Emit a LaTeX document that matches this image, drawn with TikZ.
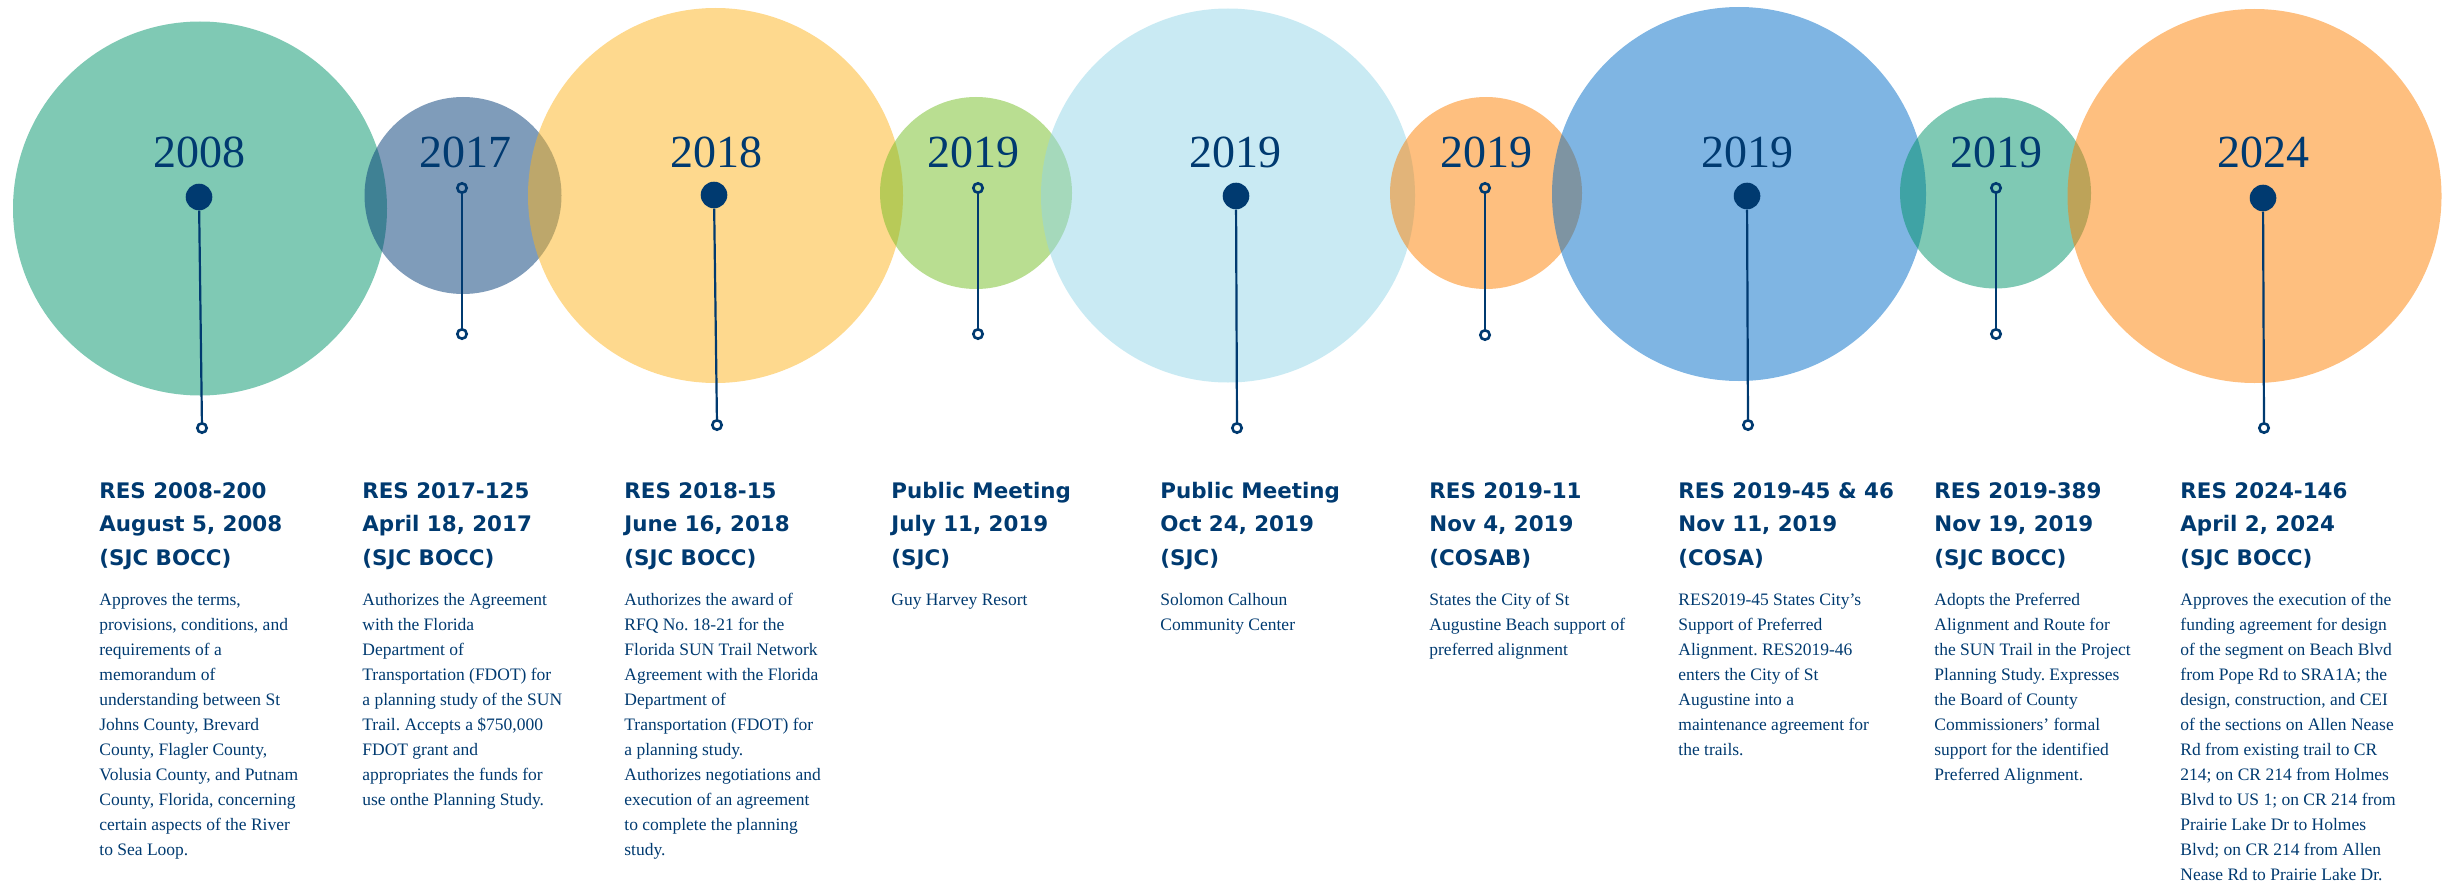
\documentclass[tikz,border=0pt]{standalone}
\usepackage{fontspec}
\setmainfont{Liberation Serif}
\newfontfamily\headfont{DejaVu Sans}
\frenchspacing

\definecolor{navy}{RGB}{0,58,112}
\definecolor{cgreen}{RGB}{0,147,105}
\definecolor{cslate}{RGB}{0,57,117}
\definecolor{cyellow}{RGB}{253,179,29}
\definecolor{clime}{RGB}{115,189,35}
\definecolor{csky}{RGB}{147,213,231}
\definecolor{corange}{RGB}{253,127,0}
\definecolor{cblue}{RGB}{0,107,199}

\begin{document}
\begin{tikzpicture}[x=0.5pt, y=-0.5pt,
	bubble/.style={shape=circle, inner sep=0pt, fill opacity=0.5},
	year/.style={anchor=base, text=navy, font=\fontsize{23}{27}\selectfont},
	bigdot/.style={shape=circle, fill=navy, inner sep=0pt, minimum size=13.3pt},
	smalldot/.style={shape=circle, draw=navy, line width=1.3pt, inner sep=0pt, minimum size=4.7pt},
	stem/.style={draw=navy, line width=1.1pt},
	head/.style={anchor=base west, align=left, inner sep=0pt, text=navy, font=\headfont\bfseries\fontsize{10.7}{16.65}\selectfont},
	body/.style={anchor=base west, align=left, inner sep=0pt, text=navy, font=\frenchspacing\fontsize{8.75}{12.5}\selectfont}]
	\useasboundingbox (0, 0) rectangle (2450, 883);
	% Bubbles, left to right:
	\node[bubble, fill=cgreen, minimum size=187pt](B1) at (200, 208.5){};
	\node[bubble, fill=cslate, minimum size=98.5pt](B2) at (463, 195.5){};
	\node[bubble, fill=cyellow, minimum size=187.5pt](B3) at (715.5, 195.5){};
	\node[bubble, fill=clime, minimum size=96pt](B4) at (976, 193){};
	\node[bubble, fill=csky, minimum size=187pt](B5) at (1228, 195.5){};
	\node[bubble, fill=corange, minimum size=96pt](B6) at (1486, 193){};
	\node[bubble, fill=cblue, minimum size=187pt](B7) at (1739, 194){};
	\node[bubble, fill=cgreen, minimum size=95.5pt](B8) at (1995.5, 193){};
	\node[bubble, fill=corange, minimum size=187pt](B9) at (2254.5, 196){};
	% Years:
	\node[year](Y1) at (199, 167){2008};
	\node[year](Y2) at (465, 167){2017};
	\node[year](Y3) at (716, 167){2018};
	\node[year](Y4) at (973, 167){2019};
	\node[year](Y5) at (1235, 167){2019};
	\node[year](Y6) at (1486, 167){2019};
	\node[year](Y7) at (1747, 167){2019};
	\node[year](Y8) at (1996, 167){2019};
	\node[year](Y9) at (2263, 167){2024};
	% Pins:
	\node[bigdot](D1) at (199, 197){};
	\node[smalldot](E1) at (202, 428){};
	\draw[stem] (D1) -- (E1);
	\node[smalldot](D2) at (462, 188){};
	\node[smalldot](E2) at (462, 334){};
	\draw[stem] (D2) -- (E2);
	\node[bigdot](D3) at (714, 195){};
	\node[smalldot](E3) at (717, 425){};
	\draw[stem] (D3) -- (E3);
	\node[smalldot](D4) at (978, 188){};
	\node[smalldot](E4) at (978, 334){};
	\draw[stem] (D4) -- (E4);
	\node[bigdot](D5) at (1236, 196){};
	\node[smalldot](E5) at (1237, 428){};
	\draw[stem] (D5) -- (E5);
	\node[smalldot](D6) at (1485, 188){};
	\node[smalldot](E6) at (1485, 335){};
	\draw[stem] (D6) -- (E6);
	\node[bigdot](D7) at (1747, 196){};
	\node[smalldot](E7) at (1748, 425){};
	\draw[stem] (D7) -- (E7);
	\node[smalldot](D8) at (1996, 188){};
	\node[smalldot](E8) at (1996, 334){};
	\draw[stem] (D8) -- (E8);
	\node[bigdot](D9) at (2263, 198){};
	\node[smalldot](E9) at (2264, 428){};
	\draw[stem] (D9) -- (E9);
	% Headings (placed at the baseline of their last line):
	\node[head](H1) at (99, 565){RES 2008-200\\August 5, 2008\\(SJC BOCC)};
	\node[head](H2) at (362, 565){RES 2017-125\\April 18, 2017\\(SJC BOCC)};
	\node[head](H3) at (624, 565){RES 2018-15\\June 16, 2018\\(SJC BOCC)};
	\node[head](H4) at (891, 565){Public Meeting\\July 11, 2019\\(SJC)};
	\node[head](H5) at (1160, 565){Public Meeting\\Oct 24, 2019\\(SJC)};
	\node[head](H6) at (1429, 565){RES 2019-11\\Nov 4, 2019\\(COSAB)};
	\node[head](H7) at (1678, 565){RES 2019-45 \& 46\\Nov 11, 2019\\(COSA)};
	\node[head](H8) at (1934, 565){RES 2019-389\\Nov 19, 2019\\(SJC BOCC)};
	\node[head](H9) at (2180, 565){RES 2024-146\\April 2, 2024\\(SJC BOCC)};
	% Texts (first line at 605, 25 per line):
	\node[body](T1) at (99, 855){Approves the terms,\\provisions, conditions, and\\requirements of a\\memorandum of\\understanding between St\\Johns County, Brevard\\County, Flagler County,\\Volusia County, and Putnam\\County, Florida, concerning\\certain aspects of the River\\to Sea Loop.};
	\node[body](T2) at (362, 805){Authorizes the Agreement\\with the Florida\\Department of\\Transportation (FDOT) for\\a planning study of the SUN\\Trail. Accepts a \$750,000\\FDOT grant and\\appropriates the funds for\\use onthe Planning Study.};
	\node[body](T3) at (624, 855){Authorizes the award of\\RFQ No. 18-21 for the\\Florida SUN Trail Network\\Agreement with the Florida\\Department of\\Transportation (FDOT) for\\a planning study.\\Authorizes negotiations and\\execution of an agreement\\to complete the planning\\study.};
	\node[body](T4) at (891, 605){Guy Harvey Resort};
	\node[body](T5) at (1160, 630){Solomon Calhoun\\Community Center};
	\node[body](T6) at (1429, 655){States the City of St\\Augustine Beach support of\\preferred alignment};
	\node[body](T7) at (1678, 755){RES2019-45 States City's\\Support of Preferred\\Alignment. RES2019-46\\enters the City of St\\Augustine into a\\maintenance agreement for\\the trails.};
	\node[body](T8) at (1934, 780){Adopts the Preferred\\Alignment and Route for\\the SUN Trail in the Project\\Planning Study. Expresses\\the Board of County\\Commissioners' formal\\support for the identified\\Preferred Alignment.};
	\node[body](T9) at (2180, 880){Approves the execution of the\\funding agreement for design\\of the segment on Beach Blvd\\from Pope Rd to SRA1A; the\\design, construction, and CEI\\of the sections on Allen Nease\\Rd from existing trail to CR\\214; on CR 214 from Holmes\\Blvd to US 1; on CR 214 from\\Prairie Lake Dr to Holmes\\Blvd; on CR 214 from Allen\\Nease Rd to Prairie Lake Dr.};
\end{tikzpicture}
\end{document}
